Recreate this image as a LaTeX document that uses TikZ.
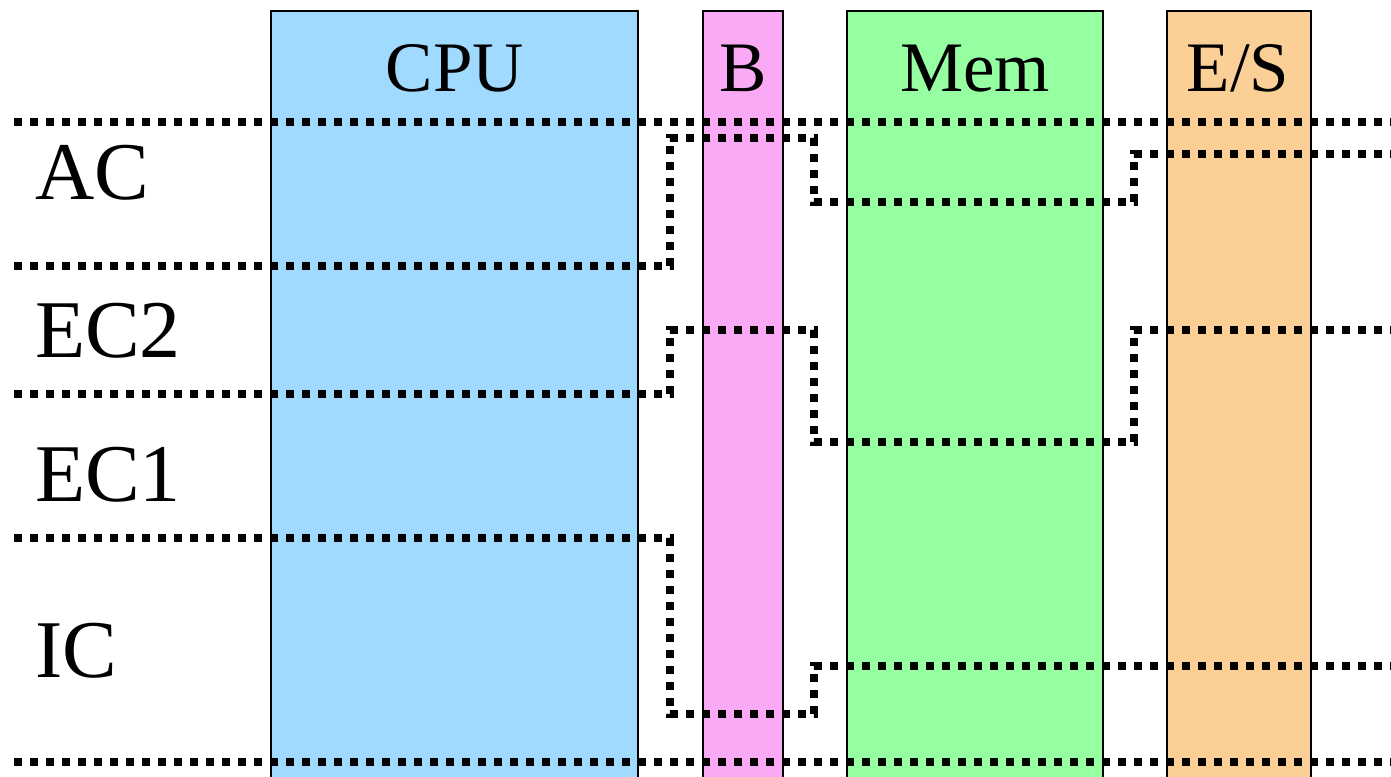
\documentclass[tikz,border=0pt]{standalone}
\usepackage{fontspec}
\setmainfont{Liberation Serif}
\definecolor{cpucol}{RGB}{160,218,255}
\definecolor{buscol}{RGB}{250,170,245}
\definecolor{memcol}{RGB}{150,255,162}
\definecolor{iocol}{RGB}{250,208,150}
\tikzset{
  unit/.style={draw=black, line width=2pt, anchor=north west, inner sep=0pt,
               minimum height=800pt},
  unitlabel/.style={anchor=base, inner sep=0pt, font=\fontsize{71}{71}\selectfont},
  rowlabel/.style={anchor=base west, inner sep=0pt, font=\fontsize{82}{82}\selectfont},
  level/.style={line width=7.5pt, line cap=butt, line join=miter,
                dash pattern=on 8pt off 8pt},
}
\begin{document}
\begin{tikzpicture}[x=1pt, y=-1pt]
  \useasboundingbox (0,0) rectangle (1391,776);
  \clip (0,0) rectangle (1391,776);
  \fill[white] (0,0) rectangle (1391,776);

  % functional units
  \node[unit, fill=cpucol, minimum width=367pt] (cpu) at (270,10) {};
  \node[unit, fill=buscol, minimum width=80pt]  (bus) at (702,10) {};
  \node[unit, fill=memcol, minimum width=256pt] (mem) at (846,10) {};
  \node[unit, fill=iocol,  minimum width=144pt] (io)  at (1166,10) {};

  \node[unitlabel] (cpul) at (455,91) {CPU};
  \node[unitlabel] (busl) at (743,91) {B};
  \node[unitlabel] (meml) at (975,91) {Mem};
  \node[unitlabel] (iol)  at (1238,91) {E/S};

  % rows
  \node[rowlabel] (ac)  at (35,199) {AC};
  \node[rowlabel] (ec2) at (35,357) {EC2};
  \node[rowlabel] (ec1) at (35,501) {EC1};
  \node[rowlabel] (ic)  at (35,677) {IC};

  % boundaries between the stages
  \draw[level] (14,122) -- (1400,122);
  \draw[level] (14,266) -- (670,266) -- (670,138) -- (814,138) -- (814,202)
               -- (1134,202) -- (1134,154) -- (1400,154);
  \draw[level] (14,394) -- (670,394) -- (670,330) -- (814,330) -- (814,442)
               -- (1134,442) -- (1134,330) -- (1400,330);
  \draw[level] (14,538) -- (670,538) -- (670,714) -- (814,714) -- (814,666)
               -- (1400,666);
  \draw[level] (14,762) -- (1400,762);
\end{tikzpicture}
\end{document}
